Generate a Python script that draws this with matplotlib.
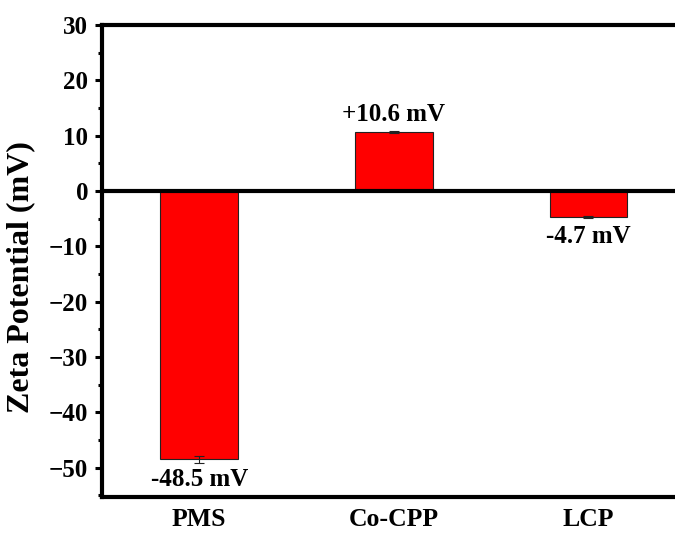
import matplotlib.pyplot as plt
from matplotlib.ticker import MultipleLocator

plt.rcParams["font.family"] = ["Liberation Serif", "DejaVu Serif"]
plt.rcParams["font.weight"] = "bold"
plt.rcParams["font.size"] = 18

samples = ["PMS", "Co-CPP", "LCP"]
zeta = [-48.5, 10.6, -4.7]
zeta_err = [0.7, 0.2, 0.1]
labels = ["-48.5 mV", "+10.6 mV", "-4.7 mV"]

fig = plt.figure(figsize=(6.75, 5.33), dpi=100)
ax = fig.add_axes([0.151, 0.0675, 0.865, 0.8855])

x = range(len(samples))
ax.bar(x, zeta, width=0.4, color="#ff0000", edgecolor="#222222", linewidth=0.8,
       yerr=zeta_err, capsize=3.5,
       error_kw=dict(ecolor="#222222", elinewidth=0.8, capthick=0.8))

ax.axhline(0, color="black", linewidth=3, zorder=3)

for xi, v, lab in zip(x, zeta, labels):
    if v > 0:
        ax.annotate(lab, (xi, v), xytext=(0, 4.5), textcoords="offset points",
                    ha="center", va="bottom", fontweight="bold", fontsize=18)
    else:
        ax.annotate(lab, (xi, v), xytext=(0, -6), textcoords="offset points",
                    ha="center", va="top", fontweight="bold", fontsize=18)

ax.set_xlim(-0.5, 2.5)
ax.set_ylim(-55.3, 30)
ax.set_xticks(list(x))
ax.set_xticklabels(samples, fontweight="bold", fontsize=18.5)
ax.tick_params(axis="x", length=0, pad=8)
ax.yaxis.set_major_locator(MultipleLocator(10))
ax.yaxis.set_minor_locator(MultipleLocator(5))
ax.tick_params(axis="y", which="major", direction="out", length=5, width=2.2, pad=5)
ax.tick_params(axis="y", which="minor", direction="out", length=3.2, width=2.2)
for lab in ax.get_yticklabels():
    lab.set_fontweight("bold")

for side in ["left", "top", "bottom"]:
    ax.spines[side].set_linewidth(3)
ax.spines["right"].set_visible(False)

ax.set_ylabel("Zeta Potential (mV)", fontweight="bold", fontsize=23)
ax.yaxis.set_label_coords(-0.115, 0.466)

fig.savefig("out.png", dpi=100)
